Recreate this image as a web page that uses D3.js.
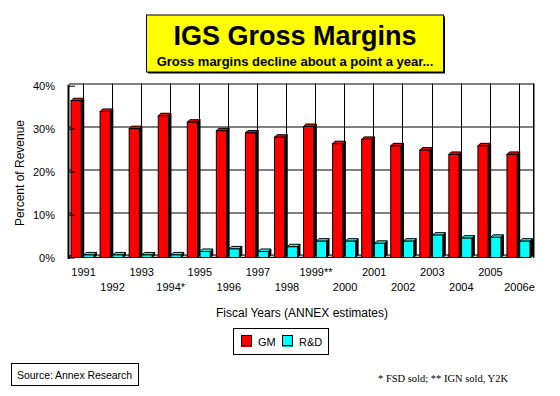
<!DOCTYPE html>
<html>
<head>
<meta charset="utf-8">
<script src="https://cdn.jsdelivr.net/npm/d3@7"></script>
<style>
  body { margin: 0; background: #fff; }
  svg { display: block; font-family: Arial, "Liberation Sans", sans-serif; }
</style>
</head>
<body>
<svg width="560" height="396"></svg>
<script>
var years = ["1991", "1992", "1993", "1994*", "1995", "1996", "1997", "1998", "1999**",
             "2000", "2001", "2002", "2003", "2004", "2005", "2006e"];
var gm = [36.5, 34, 30, 33, 31.5, 29.5, 29, 28, 30.5, 26.5, 27.5, 26, 25, 24, 26, 24];
var rd = [0.6, 0.6, 0.6, 0.6, 1.4, 2, 1.4, 2.5, 3.8, 3.8, 3.3, 3.8, 5.2, 4.5, 4.7, 3.8];
var yTicks = [0, 10, 20, 30, 40];
var seriesNames = ["GM", "R&D"];
var seriesColors = ["#ff0000", "#00ffff"];

var svg = d3.select("svg");
var depth = 2.5;

var x0 = d3.scaleBand(years, [69, 534]).paddingInner(0.14).paddingOuter(0.07);
var x1 = d3.scaleBand([0, 1], [0, x0.bandwidth()]).paddingInner(0.04);
var y = d3.scaleLinear([0, 40], [257.5, 85.7]);

// back wall with grid
var wall = svg.append("g").attr("transform", "translate(0," + (-depth) + ")");
wall.selectAll("rect.h")
    .data(yTicks)
    .enter()
        .append("rect")
        .attr("class", "h")
        .attr("x", 69).attr("width", 465)
        .attr("y", function(d) { return Math.round(y(d)); })
        .attr("height", 1)
        .attr("fill", "#000");
wall.selectAll("rect.v")
    .data(years)
    .enter()
        .append("rect")
        .attr("class", "v")
        .attr("x", function(d) { return Math.round(x0(d) + x1(1)) - 1; })
        .attr("width", 1)
        .attr("y", Math.round(y(40)))
        .attr("height", y(0) - y(40))
        .attr("fill", "#000");
wall.append("rect")
    .attr("x", 533).attr("width", 1.5)
    .attr("y", Math.round(y(40))).attr("height", y(0) - y(40) + depth)
    .attr("fill", "#000");

// floor
svg.append("polygon")
    .attr("points", [[69, y(0)], [531, y(0)], [534, y(0) - depth], [71, y(0) - depth]].join(" "))
    .attr("fill", "#c0c0c0")
    .attr("stroke", "#000");

// bars, drawn as little 3D boxes
function drawBar(g, bx, w, v, color) {
    var top = y(v), bottom = y(0);
    g.append("polygon")
        .attr("points", [[bx + w, top], [bx + w + depth, top - depth], [bx + w + depth, bottom - depth], [bx + w, bottom]].join(" "))
        .attr("fill", "#000").attr("stroke", "#000");
    g.append("polygon")
        .attr("points", [[bx, top], [bx + depth, top - depth], [bx + w + depth, top - depth], [bx + w, top]].join(" "))
        .attr("fill", color).attr("stroke", "#000");
    g.append("rect")
        .attr("x", bx).attr("y", top)
        .attr("width", w).attr("height", bottom - top)
        .attr("fill", color).attr("stroke", "#000");
}

var bars = svg.append("g");
years.forEach(function(yr, i) {
    var w = x1.bandwidth() - 2;
    drawBar(bars, x0(yr) + x1(0), w, gm[i], seriesColors[0]);
    drawBar(bars, x0(yr) + x1(1), w, rd[i], seriesColors[1]);
});

// y axis
var yAxis = d3.axisLeft(y).tickValues(yTicks).tickSize(-6).tickPadding(14)
    .tickFormat(function(d) { return d + "%"; });
var ya = svg.append("g").attr("transform", "translate(69,0)").call(yAxis);
ya.select(".domain").remove();
ya.selectAll("text").attr("font-size", 11).attr("font-family", "Arial, 'Liberation Sans', sans-serif").attr("fill", "#000");
ya.selectAll("line").attr("stroke", "#000");
svg.append("line")
    .attr("x1", 68.5).attr("x2", 68.5)
    .attr("y1", y(40) - 1).attr("y2", y(0) + 1.5)
    .attr("stroke", "#000").attr("stroke-width", 2);

// x labels, staggered on two rows
svg.append("g")
    .selectAll("text")
    .data(years)
    .enter()
        .append("text")
        .attr("x", function(d) { return x0(d) + x0.bandwidth() / 2; })
        .attr("y", function(d, i) { return i % 2 == 0 ? 276 : 291; })
        .attr("text-anchor", "middle")
        .attr("font-size", 11)
        .text(function(d) { return d; });

svg.append("text")
    .attr("x", 302).attr("y", 317)
    .attr("text-anchor", "middle").attr("font-size", 12)
    .text("Fiscal Years (ANNEX estimates)");

svg.append("text")
    .attr("transform", "translate(24,173) rotate(-90)")
    .attr("text-anchor", "middle").attr("font-size", 12)
    .text("Percent of Revenue");

// title box
svg.append("rect").attr("x", 148).attr("y", 16.5).attr("width", 297).attr("height", 57).attr("fill", "#000");
svg.append("rect").attr("x", 146.5).attr("y", 15).attr("width", 297).attr("height", 57)
    .attr("fill", "#ffff00").attr("stroke", "#000");
svg.append("text")
    .attr("x", 295).attr("y", 45)
    .attr("text-anchor", "middle").attr("font-size", 27).attr("font-weight", "bold")
    .text("IGS Gross Margins");
svg.append("text")
    .attr("x", 295).attr("y", 66)
    .attr("text-anchor", "middle").attr("font-size", 13).attr("font-weight", "bold")
    .text("Gross margins decline about a point a year...");

// legend
var legend = svg.append("g");
legend.append("rect").attr("x", 233.5).attr("y", 328.5).attr("width", 95).attr("height", 26)
    .attr("fill", "#fff").attr("stroke", "#000");
var legendX = [241, 282];
var legendTextX = [258, 299];
seriesNames.forEach(function(name, i) {
    legend.append("rect").attr("x", legendX[i] + 0.5).attr("y", 335.5).attr("width", 10).attr("height", 10)
        .attr("fill", seriesColors[i]).attr("stroke", "#000");
    legend.append("line").attr("x1", legendX[i]).attr("x2", legendX[i] + 11)
        .attr("y1", 346.5).attr("y2", 346.5).attr("stroke", i == 0 ? "#c00000" : "#00c0c0");
    legend.append("text").attr("x", legendTextX[i]).attr("y", 345.5)
        .attr("font-size", 11).text(name);
});

// source box
svg.append("rect").attr("x", 11.5).attr("y", 363.5).attr("width", 127).attr("height", 22)
    .attr("fill", "#fff").attr("stroke", "#000");
svg.append("text").attr("x", 17).attr("y", 378.5).attr("font-size", 10.5)
    .attr("textLength", 115).text("Source: Annex Research");

svg.append("text")
    .attr("x", 378).attr("y", 382)
    .attr("font-family", "'Liberation Serif', 'Times New Roman', serif")
    .attr("font-size", 10.5)
    .text("* FSD sold; ** IGN sold, Y2K");
</script>
</body>
</html>
